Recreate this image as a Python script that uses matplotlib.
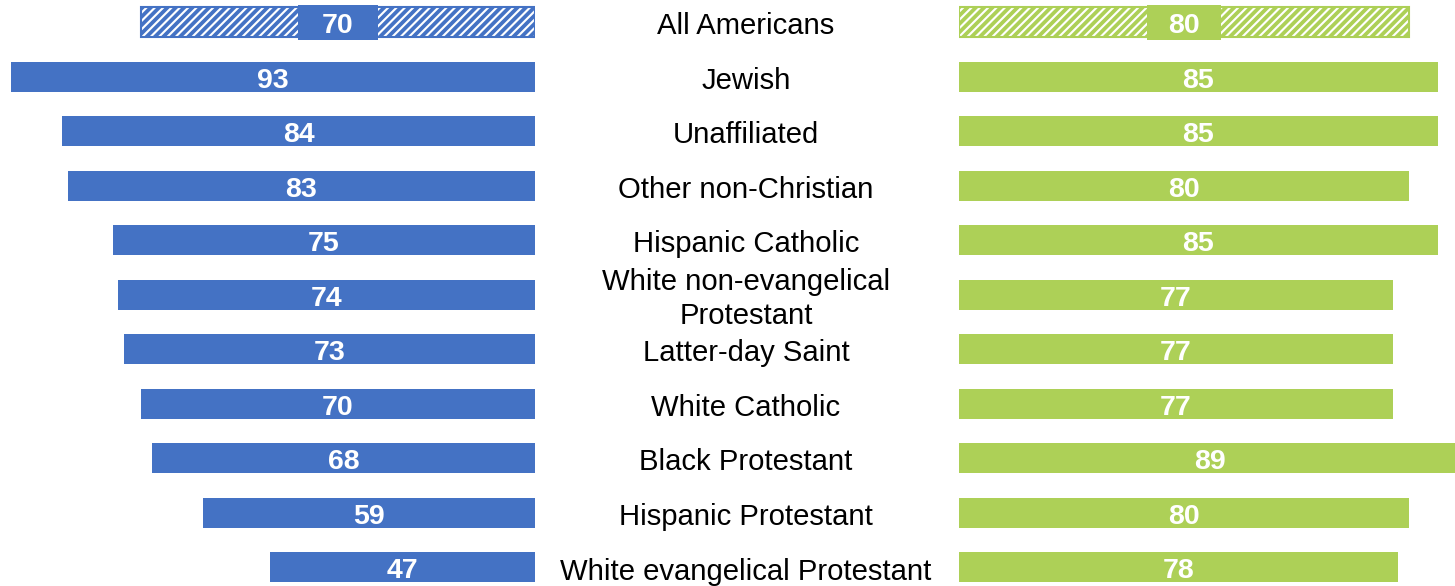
import matplotlib
matplotlib.use("Agg")
import matplotlib.pyplot as plt
import matplotlib.transforms as mtransforms

plt.rcParams['font.family'] = ['Liberation Sans', 'DejaVu Sans']
plt.rcParams['hatch.linewidth'] = 2.7

categories = ["All Americans", "Jewish", "Unaffiliated", "Other non-Christian",
              "Hispanic Catholic", "White non-evangelical\nProtestant",
              "Latter-day Saint", "White Catholic", "Black Protestant",
              "Hispanic Protestant", "White evangelical Protestant"]
left_values = [70, 93, 84, 83, 75, 74, 73, 70, 68, 59, 47]
right_values = [80, 85, 85, 80, 85, 77, 77, 77, 89, 80, 78]

BLUE = "#4472C4"
GREEN = "#ADD057"

W, H = 1455, 586
fig = plt.figure(figsize=(W / 100, H / 100), dpi=100)

scale = 5.63       # px per unit
row0, step = 22.0, 54.55
ylim = ((H - row0) / step, -row0 / step)
bar_h = 30 / step

axL = fig.add_axes([0, 0, 535 / W, 1])
axL.set_xlim(535 / scale, 0)
axR = fig.add_axes([959 / W, 0, (W - 959) / W, 1])
axR.set_xlim(0, (W - 959) / scale)
for ax in (axL, axR):
    ax.set_ylim(*ylim)
    ax.axis("off")

ys = list(range(len(categories)))

for ax, vals, col, boxw in ((axL, left_values, BLUE, 14.2), (axR, right_values, GREEN, 13.2)):
    # total row (hatched)
    ax.barh(ys[0], vals[0], height=bar_h, facecolor="white", edgecolor=col,
            hatch="////", linewidth=1.5)
    ax.barh(ys[0], boxw, left=vals[0] / 2 - boxw / 2, height=35 / step,
            color=col, linewidth=0)
    ax.barh(ys[1:], vals[1:], height=bar_h, color=col, linewidth=0)
    for y, v in zip(ys, vals):
        ax.text(v / 2, y + 1.0 / step, f"{v}", ha="center", va="center_baseline",
                color="white", fontsize=20.5, fontweight="bold")

tr = mtransforms.blended_transform_factory(fig.transFigure, axL.transData)
for y, c in zip(ys, categories):
    fig.text(746 / W, y + 4.0 / step, c, transform=tr, ha="center", va="center",
             fontsize=21.1, color="black", linespacing=1.25)

fig.savefig("out.png", dpi=100)
